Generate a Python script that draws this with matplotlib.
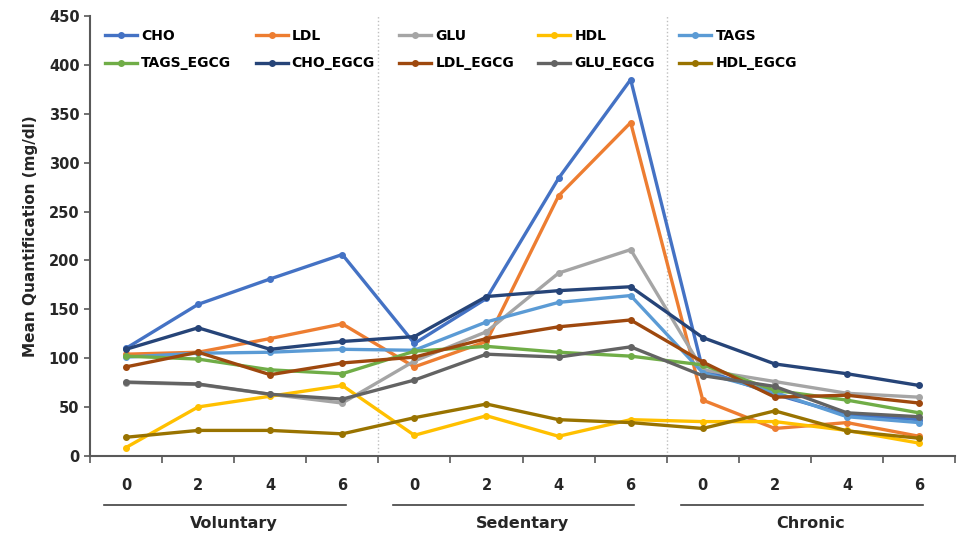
import matplotlib.pyplot as plt
import matplotlib.transforms as mtransforms
import numpy as np

groups = ['Voluntary', 'Sedentary', 'Chronic']
days = ['0', '2', '4', '6']

series_names = ['CHO', 'LDL', 'GLU', 'HDL', 'TAGS',
                'TAGS_EGCG', 'CHO_EGCG', 'LDL_EGCG', 'GLU_EGCG', 'HDL_EGCG']

cho = [110, 155, 181, 206, 115, 161, 284, 385, 88, 63, 42, 37]
ldl = [104, 106, 120, 135, 91, 117, 266, 341, 57, 28, 34, 20]
glu = [75, 73, 63, 54, 97, 127, 187, 211, 88, 76, 64, 60]
hdl = [8.5, 50, 61, 72, 21, 41, 20, 37, 35, 35, 26, 13]
tags = [101, 105, 106, 109, 108, 137, 157, 164, 85, 65, 40, 34]
tags_egcg = [102, 99, 88, 84, 107, 112, 106, 102, 93, 67, 57, 44]
cho_egcg = [109, 131, 109, 117, 122, 163, 169, 173, 121, 94, 84, 72]
ldl_egcg = [91, 106, 83, 95, 101, 120, 132, 139, 96, 60, 62, 54]
glu_egcg = [75.5, 73.5, 63, 58, 77.5, 104, 101, 111.5, 82, 71, 44, 40]
hdl_egcg = [19, 26, 26, 22.5, 39, 53, 37, 34, 28, 46, 25.5, 18]

values = [cho, ldl, glu, hdl, tags, tags_egcg, cho_egcg, ldl_egcg, glu_egcg, hdl_egcg]
colors = ['#4472C4', '#ED7D31', '#A5A5A5', '#FFC000', '#5B9BD5',
          '#70AD47', '#264478', '#9E480E', '#636363', '#997300']

fig = plt.figure(figsize=(9.57, 5.35), dpi=100)
ax = fig.add_axes([0.094, 0.148, 0.904, 0.822])

x = np.arange(len(groups) * len(days))
handles = []
for name, vals, c in zip(series_names, values, colors):
    h, = ax.plot(x, vals, color=c, lw=2.4, marker='o', ms=4, label=name)
    handles.append(h)

ax.set_xlim(-0.5, 11.5)
ax.set_ylim(0, 450)
ax.set_yticks(np.arange(0, 451, 50))

# separators between groups
for b in [3.5, 7.5]:
    ax.axvline(b, color='#BFBFBF', ls=':', lw=1, zorder=0)

for s in ['top', 'right']:
    ax.spines[s].set_visible(False)
for s in ['left', 'bottom']:
    ax.spines[s].set_color('#595959')
    ax.spines[s].set_linewidth(1.5)

ax.set_xticks(x)
ax.set_xticklabels(days * len(groups))
ax.set_xticks(np.arange(-0.5, 12, 1), minor=True)
ax.tick_params(axis='x', which='major', length=0, pad=16, labelsize=10.5, colors='#262626')
ax.tick_params(axis='x', which='minor', length=5, width=1.2, color='#595959')
ax.tick_params(axis='y', length=4, width=1.2, color='#595959', labelsize=10.5, labelcolor='#262626')
for lab in ax.get_xticklabels() + ax.get_yticklabels():
    lab.set_fontweight('semibold')

ax.set_ylabel('Mean Quantification (mg/dl)', fontsize=11, fontweight='semibold', color='#262626', labelpad=8)

# group labels with lines
trans = mtransforms.blended_transform_factory(ax.transData, ax.transAxes)
for g, name in enumerate(groups):
    x0 = g * 4 - 0.3
    x1 = g * 4 + 3.05
    ax.plot([x0, x1], [-0.111, -0.111], color='#404040', lw=1.2, transform=trans, clip_on=False)
    ax.text(g * 4 + 1.5, -0.155, name, transform=trans, ha='center', va='center',
            fontsize=11.5, fontweight='semibold', color='#262626')

# legend fills column by column, so interleave the two rows
order = [0, 5, 1, 6, 2, 7, 3, 8, 4, 9]
ax.legend([handles[i] for i in order], [series_names[i] for i in order],
          loc='upper left', ncol=5, frameon=False,
          bbox_to_anchor=(0.003, 1.0), handlelength=2.3, columnspacing=1.75,
          handletextpad=0.3, labelspacing=1.0, prop={'weight': 'semibold', 'size': 10})

fig.savefig('out.png', dpi=100)
